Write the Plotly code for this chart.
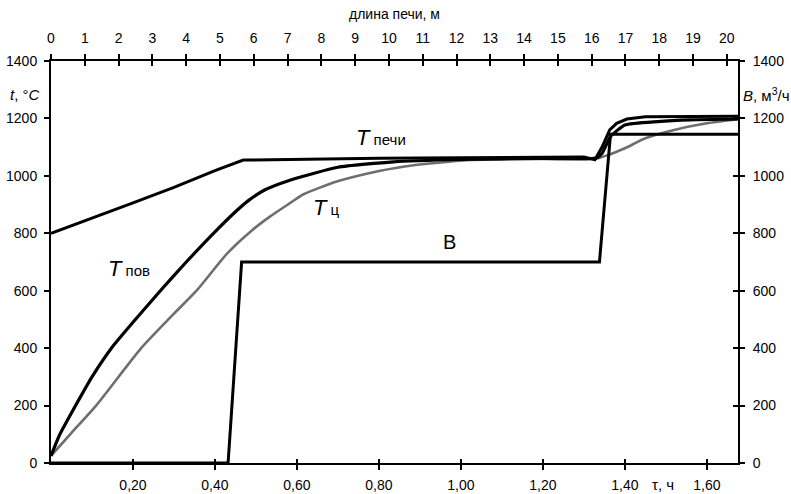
import plotly.graph_objects as go

# ---- data (time in hours, temperature °C / flow m3/h) ----
t_furnace = [0.0, 0.1, 0.2, 0.3, 0.4, 0.469, 0.6, 0.8, 1.0, 1.2, 1.30, 1.327, 1.345, 1.363, 1.38, 1.405, 1.45, 1.676]
T_furnace = [800, 852, 906, 960, 1018, 1055, 1058, 1061, 1063, 1065, 1066, 1056, 1102, 1160, 1183, 1198, 1206, 1208]

t_surface = [0.0, 0.02, 0.06, 0.10, 0.15, 0.20, 0.27, 0.33, 0.40, 0.45, 0.48, 0.52, 0.583, 0.70, 0.835, 1.0, 1.2, 1.33, 1.345, 1.365, 1.40, 1.48, 1.56, 1.676]
T_surface = [25, 95, 200, 300, 405, 490, 605, 700, 805, 875, 912, 950, 985, 1030, 1049, 1057, 1061, 1062, 1080, 1137, 1177, 1189, 1195, 1198]

t_center = [0.0, 0.05, 0.11, 0.22, 0.30, 0.355, 0.43, 0.49, 0.534, 0.583, 0.615, 0.697, 0.778, 0.859, 1.02, 1.2, 1.33, 1.36, 1.40, 1.45, 1.52, 1.60, 1.676]
T_center = [25, 105, 200, 400, 520, 600, 730, 810, 858, 905, 935, 980, 1010, 1032, 1055, 1059, 1060, 1073, 1096, 1131, 1160, 1183, 1197]

t_flow = [0.0, 0.432, 0.465, 1.338, 1.365, 1.676]
B_flow = [0, 0, 700, 700, 1145, 1145]

time_ticks = [0.2, 0.4, 0.6, 0.8, 1.0, 1.2, 1.4, 1.6]
time_labels = ["0,20", "0,40", "0,60", "0,80", "1,00", "1,20", "1,40", "1,60"]

T_MAX = 1.676
LEN_MAX = 20.33
FONT = "Liberation Sans, Arial, sans-serif"

fig = go.Figure()
fig.add_trace(go.Scatter(x=t_center, y=T_center, mode="lines",
                         line=dict(color="#6e6e6e", width=2.6, shape="spline", smoothing=0.6)))
fig.add_trace(go.Scatter(x=t_surface, y=T_surface, mode="lines",
                         line=dict(color="black", width=3.2, shape="spline", smoothing=0.5)))
fig.add_trace(go.Scatter(x=t_furnace, y=T_furnace, mode="lines",
                         line=dict(color="black", width=3.0)))
fig.add_trace(go.Scatter(x=t_flow, y=B_flow, mode="lines", yaxis="y2",
                         line=dict(color="black", width=3.0)))
# empty traces to activate the top axis and tick-only overlay axes
for xa, ya in [("x2", "y"), ("x3", "y"), ("x", "y3"), ("x4", "y")]:
    fig.add_trace(go.Scatter(x=[None], y=[None], xaxis=xa, yaxis=ya, mode="lines",
                             hoverinfo="skip"))

axis_common = dict(showgrid=False, zeroline=False, tickcolor="black", automargin=False,
                   tickfont=dict(family=FONT, size=14, color="black"))
overlay_common = dict(showticklabels=False, showline=False, showgrid=False, zeroline=False,
                      tickcolor="black", automargin=False, tickwidth=1.5)

fig.update_layout(
    width=791, height=494,
    margin=dict(l=51, r=53, t=61, b=31, autoexpand=False),
    paper_bgcolor="white", plot_bgcolor="white",
    showlegend=False,
    font=dict(family=FONT, size=14, color="black"),
    xaxis=dict(range=[0, T_MAX], tickvals=time_ticks, ticktext=time_labels,
               ticks="outside", ticklen=5, tickwidth=1.5, showline=True,
               linecolor="black", linewidth=2, ticklabelstandoff=3, **axis_common),
    xaxis2=dict(range=[0, LEN_MAX], overlaying="x", side="top", anchor="y",
                tick0=0, dtick=1, ticks="outside", ticklen=5, tickwidth=1.5,
                showline=True, linecolor="black", linewidth=2, ticklabelstandoff=5,
                title=dict(text="длина печи, м", font=dict(family=FONT, size=14), standoff=8),
                **axis_common),
    xaxis3=dict(range=[0, LEN_MAX], overlaying="x", side="top", anchor="y",
                tick0=0, dtick=1, ticks="inside", ticklen=5, **overlay_common),
    xaxis4=dict(range=[0, T_MAX], overlaying="x", side="bottom", anchor="y",
                tickvals=time_ticks, ticks="inside", ticklen=4, **overlay_common),
    yaxis=dict(range=[0, 1400], tick0=0, dtick=200, ticks="outside", ticklen=5,
               tickwidth=1.5, showline=True, linecolor="black", linewidth=2,
               ticklabelstandoff=4, **axis_common),
    yaxis2=dict(range=[0, 1400], overlaying="y", side="right", anchor="x",
                tick0=0, dtick=200, ticks="outside", ticklen=5, tickwidth=1.5,
                showline=True, linecolor="black", linewidth=2, ticklabelstandoff=5,
                **axis_common),
    yaxis3=dict(range=[0, 1400], overlaying="y", side="right", anchor="x",
                tick0=0, dtick=200, ticks="inside", ticklen=5, **overlay_common),
)

ann = []
def add(text, x, y, xref="x", yref="y", size=14, xanchor="left", yanchor="middle"):
    ann.append(dict(text=text, x=x, y=y, xref=xref, yref=yref, showarrow=False,
                    xanchor=xanchor, yanchor=yanchor,
                    font=dict(family=FONT, size=size, color="black")))

add("<i>T</i><span style='font-size:15px'> печи</span>", 0.738, 1135, size=22)
add("<i>T</i><span style='font-size:15px'> ц</span>", 0.635, 890, size=22)
add("<i>T</i><span style='font-size:15px'> пов</span>", 0.135, 678, size=22)
add("B", 0.973, 770, size=20, xanchor="center")
add("<i>t</i>, °<i>C</i>", (8 - 51) / 687, 1282, xref="paper", size=15)
add("<i>B</i>, м<sup>3</sup>/ч", (741 - 51) / 687, 1282, xref="paper", size=15)
add("τ, ч", (663 - 51) / 687, -(484 - 463) / 402, xref="paper", yref="paper", size=15,
    xanchor="center")
fig.update_layout(annotations=ann)

fig.write_html("out.html")
